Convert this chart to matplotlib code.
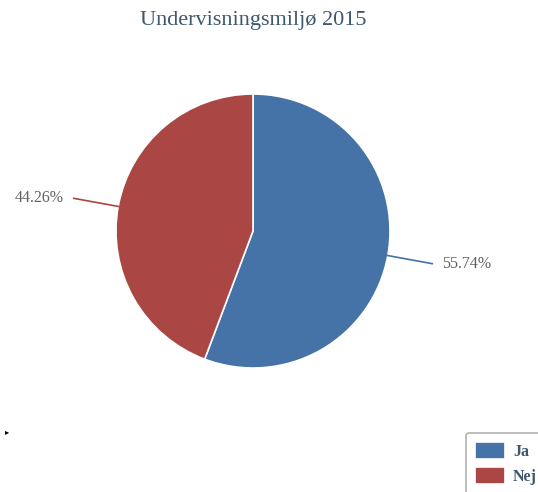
import matplotlib.pyplot as plt
import numpy as np

title = 'Undervisningsmiljø 2015'
labels = ['Ja', 'Nej']
shares = [55.74, 44.26]
colors = ['#4572A7', '#AA4643']

W, H = 538, 492
fig = plt.figure(figsize=(W / 100, H / 100), dpi=100)
plt.rcParams['font.family'] = ['Liberation Serif', 'DejaVu Serif']

# pie centre and radius in pixels
cx, cy, r = 253, 231, 137
ax = fig.add_axes([(cx - r) / W, 1 - (cy + r) / H, 2 * r / W, 2 * r / H])
wedges, _ = ax.pie(shares, colors=colors, startangle=90, counterclock=False,
                   radius=1, wedgeprops=dict(edgecolor='white', linewidth=1.2))
ax.set_xlim(-1, 1)
ax.set_ylim(-1, 1)
ax.set_aspect('equal')
ax.axis('off')

for w, s, c in zip(wedges, shares, colors):
    ang = np.deg2rad((w.theta1 + w.theta2) / 2)
    x0, y0 = np.cos(ang), np.sin(ang)
    x1, y1 = 1.33 * x0, 1.33 * y0
    ax.plot([x0, x1], [y0, y1], color=c, lw=1.2, clip_on=False)
    side = 1 if x0 > 0 else -1
    ax.text(x1 + side * 0.07, y1, f'{s:.2f}%', ha='left' if side > 0 else 'right',
            va='center', fontsize=11.5, color='#606060')

fig.text(0.47, 1 - 20 / H, title, ha='center', va='center',
         fontsize=16, color='#3E576F')

leg = fig.legend(wedges, labels, loc='upper left',
                 bbox_to_anchor=(466 / W, 1 - 433 / H), frameon=True,
                 fancybox=True, edgecolor='#a0a0a0', handlelength=1.9,
                 handleheight=1.3, handletextpad=0.5, borderpad=0.55,
                 borderaxespad=0, labelspacing=0.45,
                 prop=dict(size=11.5, weight='bold'))
for t in leg.get_texts():
    t.set_color('#3E576F')
leg.get_frame().set_linewidth(1.2)

fig.text(5 / W, 1 - 432 / H, '▸', fontsize=6, color='black',
         family='DejaVu Sans', ha='left', va='center')

fig.savefig('out.png', dpi=100)
